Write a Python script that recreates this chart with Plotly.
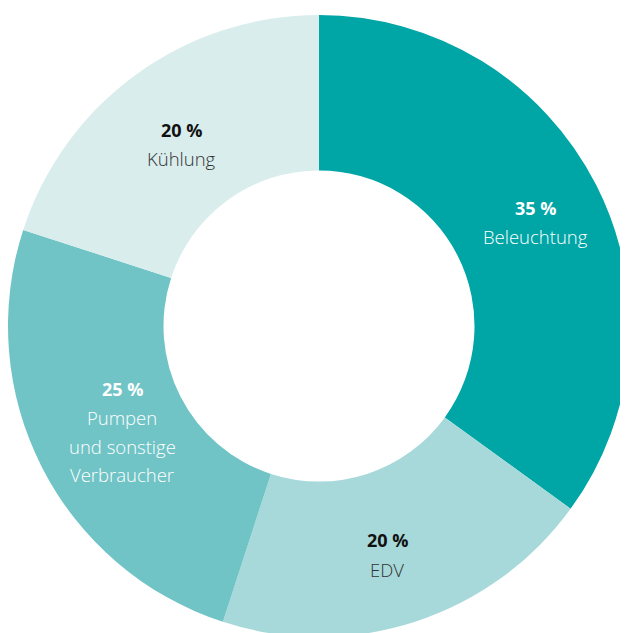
import math
import plotly.graph_objects as go

categories = ["Beleuchtung", "EDV", "Pumpen<br>und sonstige<br>Verbraucher", "Kühlung"]
label_lines = [["Beleuchtung"], ["EDV"], ["Pumpen", "und sonstige", "Verbraucher"], ["Kühlung"]]
values = [35, 20, 25, 20]
colors = ["#00A5A6", "#A7D9DA", "#70C4C6", "#D9EDED"]
text_colors = ["#FFFFFF", "#111111", "#FFFFFF", "#111111"]
label_colors = ["#FFFFFF", "#333333", "#FFFFFF", "#333333"]

W, H = 628, 633
# page body has an 8px margin; the pie sits 7px below the figure top, flush left
dom_x = [0.0, 622 / W]
dom_y = [1 - 629 / H, 1 - 7 / H]
HOLE = 0.5
# small per-label pixel nudges (styling only)
NUDGE = [(9, 2), (-4, 7), (11, 0), (0, 7)]

fig = go.Figure(go.Pie(
    labels=categories,
    values=values,
    sort=False,
    direction="clockwise",
    rotation=0,
    hole=HOLE,
    marker=dict(colors=colors, line=dict(width=0)),
    textinfo="none",
    hoverinfo="label+percent",
    domain=dict(x=dom_x, y=dom_y),
    showlegend=False,
))

# geometry of the pie in pixels (derived from the domain)
dw = (dom_x[1] - dom_x[0]) * W
dh = (dom_y[1] - dom_y[0]) * H
R = min(dw, dh) / 2
cx = (dom_x[0] + dom_x[1]) / 2 * W
cy = (1 - (dom_y[0] + dom_y[1]) / 2) * H
r_lab = R * (1 + HOLE) / 2

total = sum(values)
cum = 0
LINE = 28.7
for i, v in enumerate(values):
    mid = (cum + v / 2) / total * 2 * math.pi
    cum += v
    px = cx + r_lab * math.sin(mid) + NUDGE[i][0]
    py = cy - r_lab * math.cos(mid) + NUDGE[i][1]
    lines = [(f"<b>{v} %</b>", text_colors[i], 18, 700)] + \
            [(t, label_colors[i], 18.5, 300) for t in label_lines[i]]
    n = len(lines)
    for j, (t, col, sz, wt) in enumerate(lines):
        off = (j - (n - 1) / 2) * LINE
        fig.add_annotation(
            x=px / W, y=1 - (py + off) / H, xref="paper", yref="paper",
            text=t, showarrow=False, xanchor="center", yanchor="middle",
            font=dict(family="Open Sans", size=sz, color=col, weight=wt),
        )

fig.update_layout(
    width=W, height=H,
    margin=dict(l=0, r=0, t=0, b=0),
    paper_bgcolor="white", plot_bgcolor="white",
)
fig.write_html(
    "out.html",
    post_script="document.documentElement.style.overflow='hidden';document.body.style.overflow='hidden';",
)
